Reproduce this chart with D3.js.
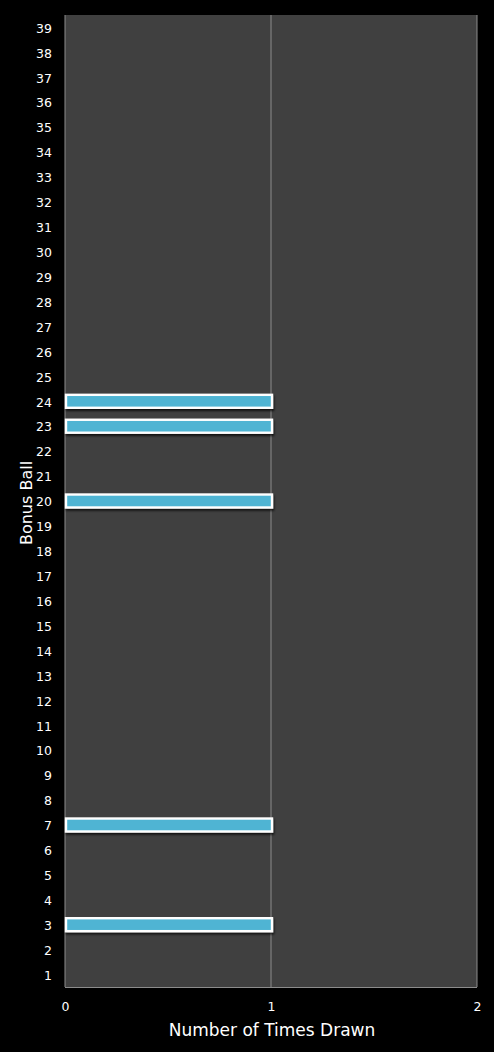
<!DOCTYPE html>
<html><head><meta charset="utf-8">
<script src="https://cdn.jsdelivr.net/npm/d3@7"></script>
<style>html,body{margin:0;padding:0;background:#000;}</style>
</head><body>
<svg id="c" width="494" height="1052"></svg>
<script>
const categories = d3.range(1, 40).map(String);
const drawnBalls = ["3", "7", "20", "23", "24"];
const drawnCounts = [1, 1, 1, 1, 1];
const xTicks = [0, 1, 2];
const xTitle = "Number of Times Drawn";
const yTitle = "Bonus Ball";

const values = categories.map(c => {
  const i = drawnBalls.indexOf(c);
  return i >= 0 ? drawnCounts[i] : 0;
});

const svg = d3.select("#c");
const m = {left: 65, right: 17, top: 15, bottom: 65};
const W = 494, H = 1052;
const x = d3.scaleLinear().domain([0, 2]).range([m.left, W - m.right]);
const y = d3.scaleBand().domain(categories).range([H - m.bottom, m.top]).paddingInner(0.48).paddingOuter(0.24);

const defs = svg.append("defs");
const f = defs.append("filter").attr("id", "sh").attr("x", "-5%").attr("y", "-50%").attr("width", "110%").attr("height", "200%");
f.append("feDropShadow").attr("dx", 1).attr("dy", 2).attr("stdDeviation", 1.3).attr("flood-color", "#000").attr("flood-opacity", 0.75);

svg.append("rect").attr("x", m.left).attr("y", m.top)
  .attr("width", x(2) - m.left).attr("height", H - m.bottom - m.top)
  .attr("fill", "#404040");

// gridlines
svg.append("g").selectAll("line").data(xTicks.slice(1)).join("line")
  .attr("x1", d => x(d)).attr("x2", d => x(d))
  .attr("y1", m.top).attr("y2", H - m.bottom)
  .attr("stroke", "#8c8c8c").attr("stroke-width", 1);

// axes lines
svg.append("line").attr("x1", m.left).attr("x2", m.left).attr("y1", m.top).attr("y2", H - m.bottom).attr("stroke", "#8c8c8c");
svg.append("line").attr("x1", m.left).attr("x2", x(2)).attr("y1", H - m.bottom + 0.5).attr("y2", H - m.bottom + 0.5).attr("stroke", "#8c8c8c");

// bars
const bars = categories.map((c, i) => ({c, v: values[i]})).filter(d => d.v > 0);
svg.append("g").selectAll("rect").data(bars).join("rect")
  .attr("x", x(0) + 1).attr("y", d => y(d.c))
  .attr("width", d => x(d.v) - x(0)).attr("height", y.bandwidth())
  .attr("fill", "#4fb4d3").attr("stroke", "#ffffff").attr("stroke-width", 2.4)
  .attr("filter", "url(#sh)");

const font = "DejaVu Sans, Verdana, sans-serif";

// y axis labels
const yAxis = d3.axisLeft(y).tickSize(0).tickPadding(13);
const gy = svg.append("g").attr("transform", `translate(${m.left},0)`).call(yAxis);
gy.select(".domain").remove();
gy.selectAll("text").attr("fill", "#fff").attr("dy", "0.42em").style("font-family", font).style("font-size", "12.5px");

// x axis labels
const xAxis = d3.axisBottom(x).tickValues(xTicks).tickFormat(d3.format("d")).tickSize(0).tickPadding(15);
const gx = svg.append("g").attr("transform", `translate(0,${H - m.bottom})`).call(xAxis);
gx.select(".domain").remove();
gx.selectAll("text").attr("fill", "#fff").style("font-family", font).style("font-size", "12.5px");

svg.append("text").attr("x", (m.left + x(2)) / 2 + 1).attr("y", 1036)
  .attr("text-anchor", "middle").attr("fill", "#fff")
  .style("font-family", font).style("font-size", "17px").text(xTitle);

svg.append("text").attr("transform", `translate(32,${(m.top + H - m.bottom) / 2 + 2}) rotate(-90)`)
  .attr("text-anchor", "middle").attr("fill", "#fff")
  .style("font-family", font).style("font-size", "16px").text(yTitle);
</script>
</body></html>
